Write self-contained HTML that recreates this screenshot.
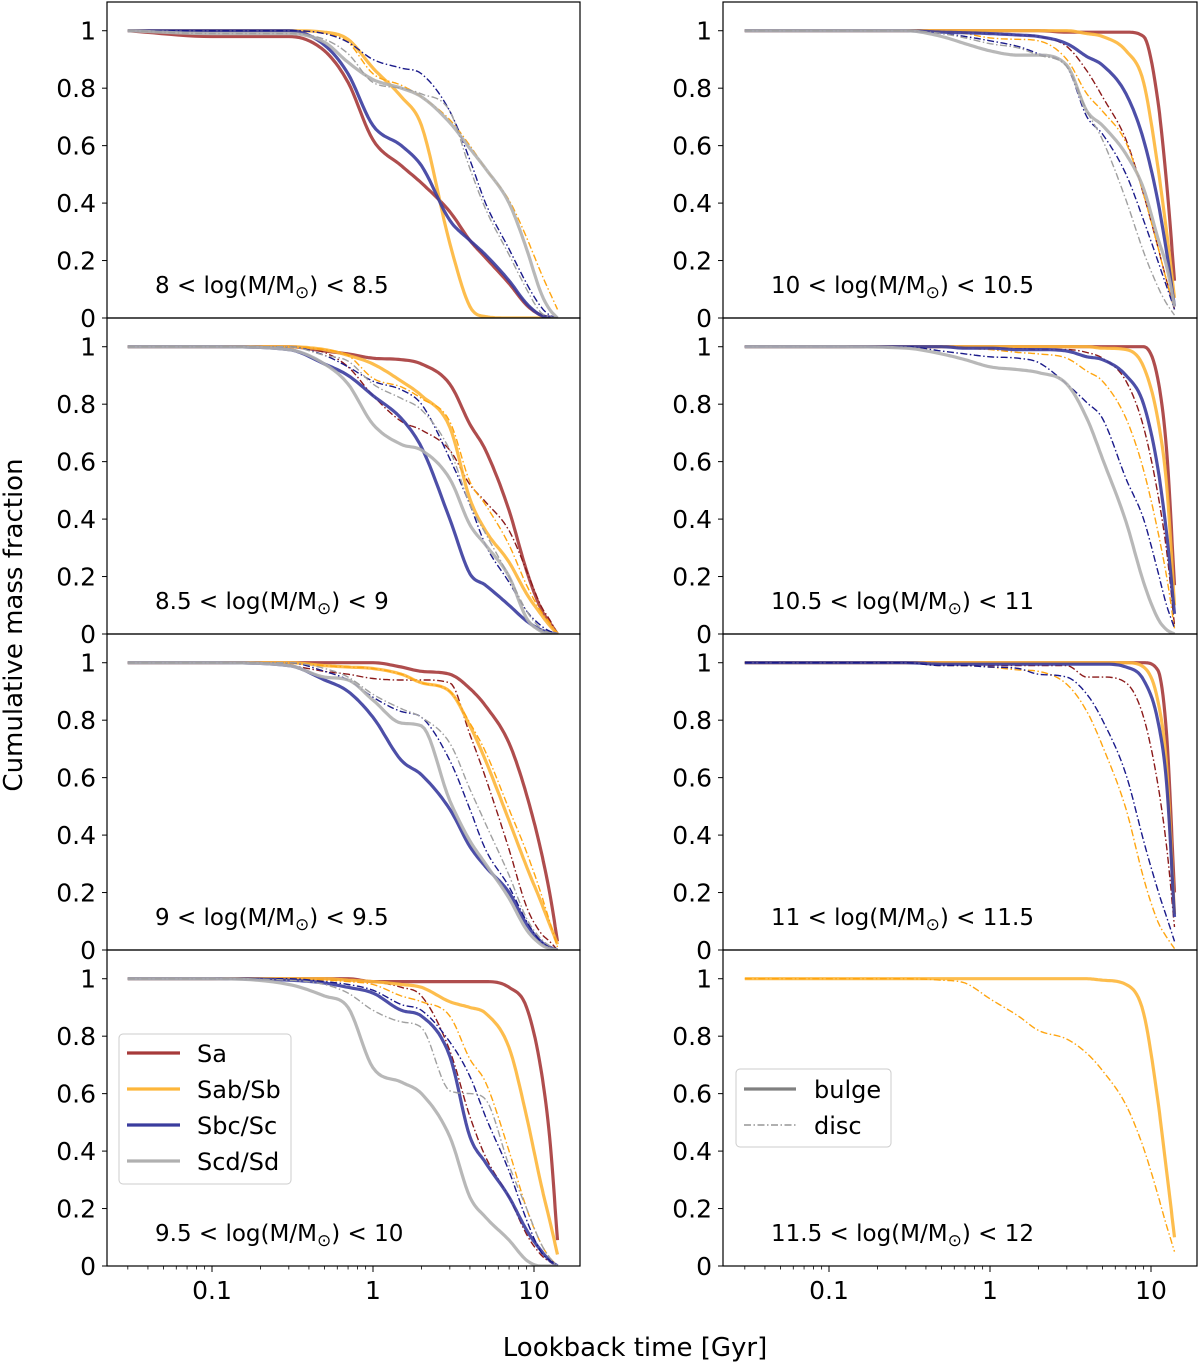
<!DOCTYPE html>
<html><head><meta charset="utf-8">
<style>
html,body{margin:0;padding:0;background:#fff;}
svg{display:block;font-family:"DejaVu Sans","Liberation Sans",sans-serif;}
</style></head>
<body>
<svg id="fig" width="1200" height="1363" viewBox="0 0 1200 1363" xmlns="http://www.w3.org/2000/svg">
<text x="0" y="0" transform="translate(22,625) rotate(-90)" text-anchor="middle" font-size="26">Cumulative mass fraction</text>
<text x="635" y="1356" text-anchor="middle" font-size="26">Lookback time [Gyr]</text>
</svg>
<script>
// shared lookback-time grid (Gyr)
const T = [0.03,0.1,0.3,0.5,0.7,1,1.5,2,3,4,5,7,9,11,12.5,14];
const yTickVals = [0,0.2,0.4,0.6,0.8,1];
const yTickLabels = ["0","0.2","0.4","0.6","0.8","1"];
const xTickVals = [0.1,1,10];
const xTickLabels = ["0.1","1","10"];
const panelLo = ["8","8.5","9","9.5","10","10.5","11","11.5"];
const panelHi = ["8.5","9","9.5","10","10.5","11","11.5","12"];
const types = ["Sa","Sab/Sb","Sbc/Sc","Scd/Sd"];

// panel 1: 8-8.5
const p1_Sa_b  = [1,.98,.98,.93,.82,.62,.53,.47,.37,.27,.21,.12,.045,.01,.003,0];
const p1_Sab_b = [1,1,1,.995,.97,.87,.77,.67,.26,.04,.005,0,0,0,0,0];
const p1_Sab_d = [1,1,1,.99,.96,.85,.81,.77,.69,.6,.52,.41,.28,.16,.09,.03];
const p1_Sbc_b = [1,1,1,.95,.85,.67,.6,.53,.34,.27,.22,.13,.05,.01,.003,0];
const p1_Sbc_d = [1,1,1,.99,.96,.90,.87,.85,.72,.55,.40,.24,.12,.04,.01,0];
const p1_Scd_b = [1,.99,.99,.96,.89,.83,.80,.77,.68,.59,.52,.40,.24,.09,.03,0];
const p1_Scd_d = [1,.99,.99,.97,.92,.82,.80,.78,.72,.52,.38,.22,.1,.02,.005,0];
// panel 2: 8.5-9
const p2_Sa_b  = [1,1,1,.985,.975,.96,.955,.94,.87,.73,.64,.43,.22,.09,.04,0];
const p2_Sa_d  = [1,1,1,.98,.93,.83,.74,.71,.64,.52,.46,.36,.22,.1,.05,0];
const p2_Sab_b = [1,1,1,.99,.97,.94,.88,.83,.72,.47,.36,.25,.14,.07,.03,0];
const p2_Sab_d = [1,1,1,.99,.97,.89,.86,.82,.74,.53,.45,.31,.17,.08,.04,0];
const p2_Sbc_b = [1,1,.99,.94,.9,.83,.75,.65,.40,.21,.17,.10,.045,.015,.005,0];
const p2_Sbc_d = [1,1,1,.97,.93,.88,.85,.80,.61,.45,.31,.18,.08,.03,.01,0];
const p2_Scd_b = [1,1,.99,.94,.87,.73,.66,.64,.54,.38,.31,.20,.055,.01,0,0];
const p2_Scd_d = [1,1,1,.97,.95,.87,.82,.78,.64,.45,.35,.20,.08,.02,.005,0];
// panel 3: 9-9.5
const p3_Sa_b  = [1,1,1,1,1,1,.985,.97,.96,.91,.85,.72,.54,.35,.2,.03];
const p3_Sa_d  = [1,1,.99,.97,.96,.945,.94,.94,.93,.75,.6,.35,.15,.06,.03,0];
const p3_Sab_b = [1,1,1,.99,.985,.98,.96,.93,.9,.78,.66,.45,.29,.17,.09,.02];
const p3_Sab_d = [1,1,1,.99,.985,.98,.96,.93,.9,.79,.69,.49,.34,.2,.1,.01];
const p3_Sbc_b = [1,1,.99,.94,.9,.81,.66,.61,.49,.36,.29,.2,.09,.03,.01,0];
const p3_Sbc_d = [1,1,1,.97,.94,.88,.83,.81,.66,.49,.35,.22,.1,.03,.01,0];
const p3_Scd_b = [1,1,.99,.95,.94,.87,.79,.78,.52,.38,.3,.18,.07,.02,.005,0];
const p3_Scd_d = [1,1,1,.98,.95,.89,.84,.81,.72,.56,.44,.26,.11,.04,.015,0];
// panel 4: 9.5-10
const p4_Sa_b  = [1,1,1,1,1,.99,.99,.99,.99,.99,.99,.97,.9,.69,.45,.09];
const p4_Sa_d  = [1,1,1,1,.995,.99,.97,.94,.75,.52,.38,.24,.11,.04,.015,0];
const p4_Sab_b = [1,1,1,1,.995,.99,.98,.97,.92,.9,.88,.76,.52,.29,.16,.04];
const p4_Sab_d = [1,1,1,.995,.99,.98,.94,.92,.87,.72,.64,.4,.2,.08,.03,0];
const p4_Sbc_b = [1,1,.995,.985,.97,.95,.89,.87,.73,.45,.36,.24,.125,.055,.02,0];
const p4_Sbc_d = [1,1,1,.99,.98,.96,.91,.89,.78,.66,.52,.33,.16,.05,.02,0];
const p4_Scd_b = [1,1,.98,.94,.9,.69,.64,.6,.45,.24,.17,.09,.02,0,0,0];
const p4_Scd_d = [1,1,.995,.98,.95,.89,.85,.83,.61,.6,.58,.35,.2,.08,.03,0];
// panel 5: 10-10.5
const p5_Sa_b  = [1,1,1,1,1,1,1,1,.995,.995,.995,.995,.98,.76,.47,.13];
const p5_Sa_d  = [1,1,1,1,.995,.99,.985,.98,.945,.86,.77,.62,.43,.25,.13,.03];
const p5_Sab_b = [1,1,1,1,1,1,1,1,1,.99,.98,.93,.82,.53,.3,.07];
const p5_Sab_d = [1,1,1,.995,.99,.975,.97,.965,.9,.78,.72,.61,.43,.25,.13,.03];
const p5_Sbc_b = [1,1,1,.995,.993,.99,.985,.98,.955,.91,.88,.78,.62,.41,.23,.04];
const p5_Sbc_d = [1,1,1,.99,.98,.965,.945,.92,.875,.7,.64,.5,.34,.2,.11,.03];
const p5_Scd_b = [1,1,1,.98,.955,.93,.915,.915,.88,.72,.67,.57,.45,.28,.18,.04];
const p5_Scd_d = [1,1,1,.99,.975,.955,.94,.915,.875,.72,.62,.41,.23,.11,.05,.01];
// panel 6: 10.5-11
const p6_Sa_b  = [1,1,1,1,1,1,1,1,1,1,1,1,1,.89,.64,.17];
const p6_Sa_d  = [1,1,1,1,1,.995,.995,.99,.99,.98,.96,.88,.72,.49,.29,.03];
const p6_Sab_b = [1,1,1,1,1,1,1,1,1,1,.995,.99,.93,.75,.52,.1];
const p6_Sab_d = [1,1,1,1,.995,.99,.98,.975,.96,.915,.88,.75,.57,.36,.2,.02];
const p6_Sbc_b = [1,1,1,1,.995,.995,.99,.99,.985,.965,.955,.9,.8,.58,.35,.07];
const p6_Sbc_d = [1,1,1,.985,.975,.965,.96,.945,.87,.805,.75,.54,.4,.22,.1,.02];
const p6_Scd_b = [1,1,.995,.975,.955,.93,.92,.91,.87,.75,.61,.39,.18,.055,.015,0];
// panel 7: 11-11.5
const p7_Sa_b  = [1,1,1,1,1,1,1,1,1,1,1,1,1,.975,.75,.2];
const p7_Sa_d  = [1,1,1,.995,.99,.99,.99,.99,.99,.95,.95,.93,.81,.58,.36,.08];
const p7_Sab_b = [1,1,1,1,1,1,1,1,1,1,1,1,.985,.87,.64,.125];
const p7_Sab_d = [1,1,1,.99,.99,.985,.975,.97,.925,.83,.71,.49,.25,.1,.045,.005];
const p7_Sbc_b = [1,1,1,.995,.995,.995,.995,.995,.995,.995,.995,.985,.94,.8,.58,.115];
const p7_Sbc_d = [1,1,1,.99,.99,.985,.98,.96,.95,.89,.8,.61,.38,.21,.115,.03];
// panel 8: 11.5-12
const p8_Sab_b = [1,1,1,1,1,1,1,1,1,1,.995,.98,.88,.58,.33,.1];
const p8_Sab_d = [1,1,1,.995,.985,.93,.87,.82,.79,.74,.68,.56,.41,.25,.14,.05];

const NS='http://www.w3.org/2000/svg';
const svg=document.getElementById('fig');
function mk(tag,attrs,parent){const e=document.createElementNS(NS,tag);for(const k in attrs)e.setAttribute(k,attrs[k]);(parent||svg).appendChild(e);return e;}

const colB={Sa:'#a63a3a',Sab:'#fdb63a',Sbc:'#3a3c9e',Scd:'#b0b0b0'};
const colD={Sa:'#8b1a1a',Sab:'#ffa510',Sbc:'#1a1a8a',Scd:'#a0a0a0'};

const cols=[{x0:107,x1:580,x1t:373},{x0:723,x1:1197,x1t:990}];
const rowsTop=[2,318,634,950];
const PH=316, DEC=161;

const panels=[
 {c:0,r:0,s:[['Sa','b',p1_Sa_b],['Sab','b',p1_Sab_b],['Sab','d',p1_Sab_d],['Sbc','b',p1_Sbc_b],['Sbc','d',p1_Sbc_d],['Scd','b',p1_Scd_b],['Scd','d',p1_Scd_d]]},
 {c:0,r:1,s:[['Sa','b',p2_Sa_b],['Sa','d',p2_Sa_d],['Sab','b',p2_Sab_b],['Sab','d',p2_Sab_d],['Sbc','b',p2_Sbc_b],['Sbc','d',p2_Sbc_d],['Scd','b',p2_Scd_b],['Scd','d',p2_Scd_d]]},
 {c:0,r:2,s:[['Sa','b',p3_Sa_b],['Sa','d',p3_Sa_d],['Sab','b',p3_Sab_b],['Sab','d',p3_Sab_d],['Sbc','b',p3_Sbc_b],['Sbc','d',p3_Sbc_d],['Scd','b',p3_Scd_b],['Scd','d',p3_Scd_d]]},
 {c:0,r:3,s:[['Sa','b',p4_Sa_b],['Sa','d',p4_Sa_d],['Sab','b',p4_Sab_b],['Sab','d',p4_Sab_d],['Sbc','b',p4_Sbc_b],['Sbc','d',p4_Sbc_d],['Scd','b',p4_Scd_b],['Scd','d',p4_Scd_d]]},
 {c:1,r:0,s:[['Sa','b',p5_Sa_b],['Sa','d',p5_Sa_d],['Sab','b',p5_Sab_b],['Sab','d',p5_Sab_d],['Sbc','b',p5_Sbc_b],['Sbc','d',p5_Sbc_d],['Scd','b',p5_Scd_b],['Scd','d',p5_Scd_d]]},
 {c:1,r:1,s:[['Sa','b',p6_Sa_b],['Sa','d',p6_Sa_d],['Sab','b',p6_Sab_b],['Sab','d',p6_Sab_d],['Sbc','b',p6_Sbc_b],['Sbc','d',p6_Sbc_d],['Scd','b',p6_Scd_b]]},
 {c:1,r:2,s:[['Sa','b',p7_Sa_b],['Sa','d',p7_Sa_d],['Sab','b',p7_Sab_b],['Sab','d',p7_Sab_d],['Sbc','b',p7_Sbc_b],['Sbc','d',p7_Sbc_d]]},
 {c:1,r:3,s:[['Sab','b',p8_Sab_b],['Sab','d',p8_Sab_d]]}
];

// monotone cubic interpolation
function monotone(xs,ys,n){
 const N=xs.length,d=[],m=new Array(N);
 for(let i=0;i<N-1;i++)d.push((ys[i+1]-ys[i])/(xs[i+1]-xs[i]));
 m[0]=d[0];m[N-1]=d[N-2];
 for(let i=1;i<N-1;i++){m[i]=(d[i-1]*d[i]<=0)?0:(d[i-1]+d[i])/2;}
 for(let i=0;i<N-1;i++){if(d[i]===0){m[i]=0;m[i+1]=0;continue;}const a=m[i]/d[i],b=m[i+1]/d[i],s=a*a+b*b;if(s>9){const t=3/Math.sqrt(s);m[i]=t*a*d[i];m[i+1]=t*b*d[i];}}
 const out=[];
 for(let i=0;i<N-1;i++){const h=xs[i+1]-xs[i];for(let k=0;k<n;k++){const t=k/n,t2=t*t,t3=t2*t;
  const y=(2*t3-3*t2+1)*ys[i]+(t3-2*t2+t)*h*m[i]+(-2*t3+3*t2)*ys[i+1]+(t3-t2)*h*m[i+1];out.push([xs[i]+t*h,y]);}}
 out.push([xs[N-1],ys[N-1]]);return out;
}

panels.forEach((p,pi)=>{
 const C=cols[p.c],top=rowsTop[p.r],bot=top+PH;
 const xs=t=>C.x1t+DEC*Math.log10(t);
 const ys=v=>bot-v*(PH/1.1);
 const g=mk('g',{});
 
 
 const clipId='clip'+pi;
 const cp=mk('clipPath',{id:clipId},g);mk('rect',{x:C.x0,y:top,width:C.x1-C.x0,height:PH},cp);
 p.s.forEach(s=>{
  const lx=T.map(t=>Math.log10(t));
  const pts=monotone(lx,s[2],10);
  const d=pts.map((q,i)=>(i?'L':'M')+(C.x1t+DEC*q[0]).toFixed(1)+','+ys(Math.max(0,q[1])).toFixed(1)).join('');
  const isB=s[1]==='b';
  const path=mk('path',{d:d,fill:'none','clip-path':'url(#'+clipId+')',
   stroke:isB?colB[s[0]]:colD[s[0]],'stroke-width':isB?3.2:1.4,
   'stroke-opacity':isB?0.9:1,'stroke-linejoin':'round',
   'stroke-dasharray':isB?'none':'7,2.5,1.5,2.5'},g);
  
  
 });
 const fr=mk('rect',{x:C.x0,y:top,width:C.x1-C.x0,height:PH,fill:'none',stroke:'#000','stroke-width':1.2},g);
 
 
 yTickVals.forEach((v,i)=>{
  const y=ys(v);
  const tk=mk('line',{x1:C.x0-5,x2:C.x0,y1:y,y2:y,stroke:'#000','stroke-width':1},g);
  
  
  const tl=mk('text',{x:C.x0-11,y:y+9,'text-anchor':'end','font-size':25},g);
  tl.textContent=yTickLabels[i];
  
  
 });
 const lab=mk('text',{x:C.x0+48,y:top+291,'font-size':23},g);
 
 
 lab.innerHTML=panelLo[pi]+' &lt; log(M/M<tspan font-size="17" dy="5">⊙</tspan><tspan dy="-5">) &lt; '+panelHi[pi]+'</tspan>';
 if(p.r===3){
  xTickVals.forEach((v,i)=>{
   const x=xs(v);
   const tk=mk('line',{x1:x,x2:x,y1:bot,y2:bot+6,stroke:'#000','stroke-width':1},g);
   
   
   const tl=mk('text',{x:x,y:bot+33,'text-anchor':'middle','font-size':25},g);
   tl.textContent=xTickLabels[i];
   
   
  });
  for(let e=-2;e<=1;e++)for(let k=2;k<=9;k++){const v=k*Math.pow(10,e);const x=xs(v);if(x<=C.x0||x>=C.x1)continue;
   const mt=mk('line',{x1:x,x2:x,y1:bot,y2:bot+3.5,stroke:'#000','stroke-width':0.8},g);
   
   }
 }
});

// type legend
const lg=mk('g',{});


mk('rect',{x:119,y:1034,width:172,height:150,rx:4,fill:'#fff','fill-opacity':0.8,stroke:'#ccc','stroke-width':1},lg);
types.forEach((t,i)=>{
 const key=['Sa','Sab','Sbc','Scd'][i];const y=1053+i*36;
 const ln=mk('line',{x1:127,x2:180,y1:y,y2:y,stroke:colB[key],'stroke-width':3.2},lg);
 
 
 const tx=mk('text',{x:197,y:y+9,'font-size':24},lg);
 tx.textContent=t;
 
 
});
// component legend
const lg2=mk('g',{});


mk('rect',{x:736,y:1069,width:155,height:78,rx:4,fill:'#fff','fill-opacity':0.8,stroke:'#ccc','stroke-width':1},lg2);
const bl=mk('line',{x1:744,x2:796,y1:1089,y2:1089,stroke:'#808080','stroke-width':3.2},lg2);


const bt=mk('text',{x:814,y:1098,'font-size':24},lg2);bt.textContent='bulge';


const dl=mk('line',{x1:744,x2:796,y1:1125,y2:1125,stroke:'#808080','stroke-width':1.2,'stroke-dasharray':'7,2.5,1.5,2.5'},lg2);


const dt=mk('text',{x:814,y:1134,'font-size':24},lg2);dt.textContent='disc';


</script>
</body></html>
